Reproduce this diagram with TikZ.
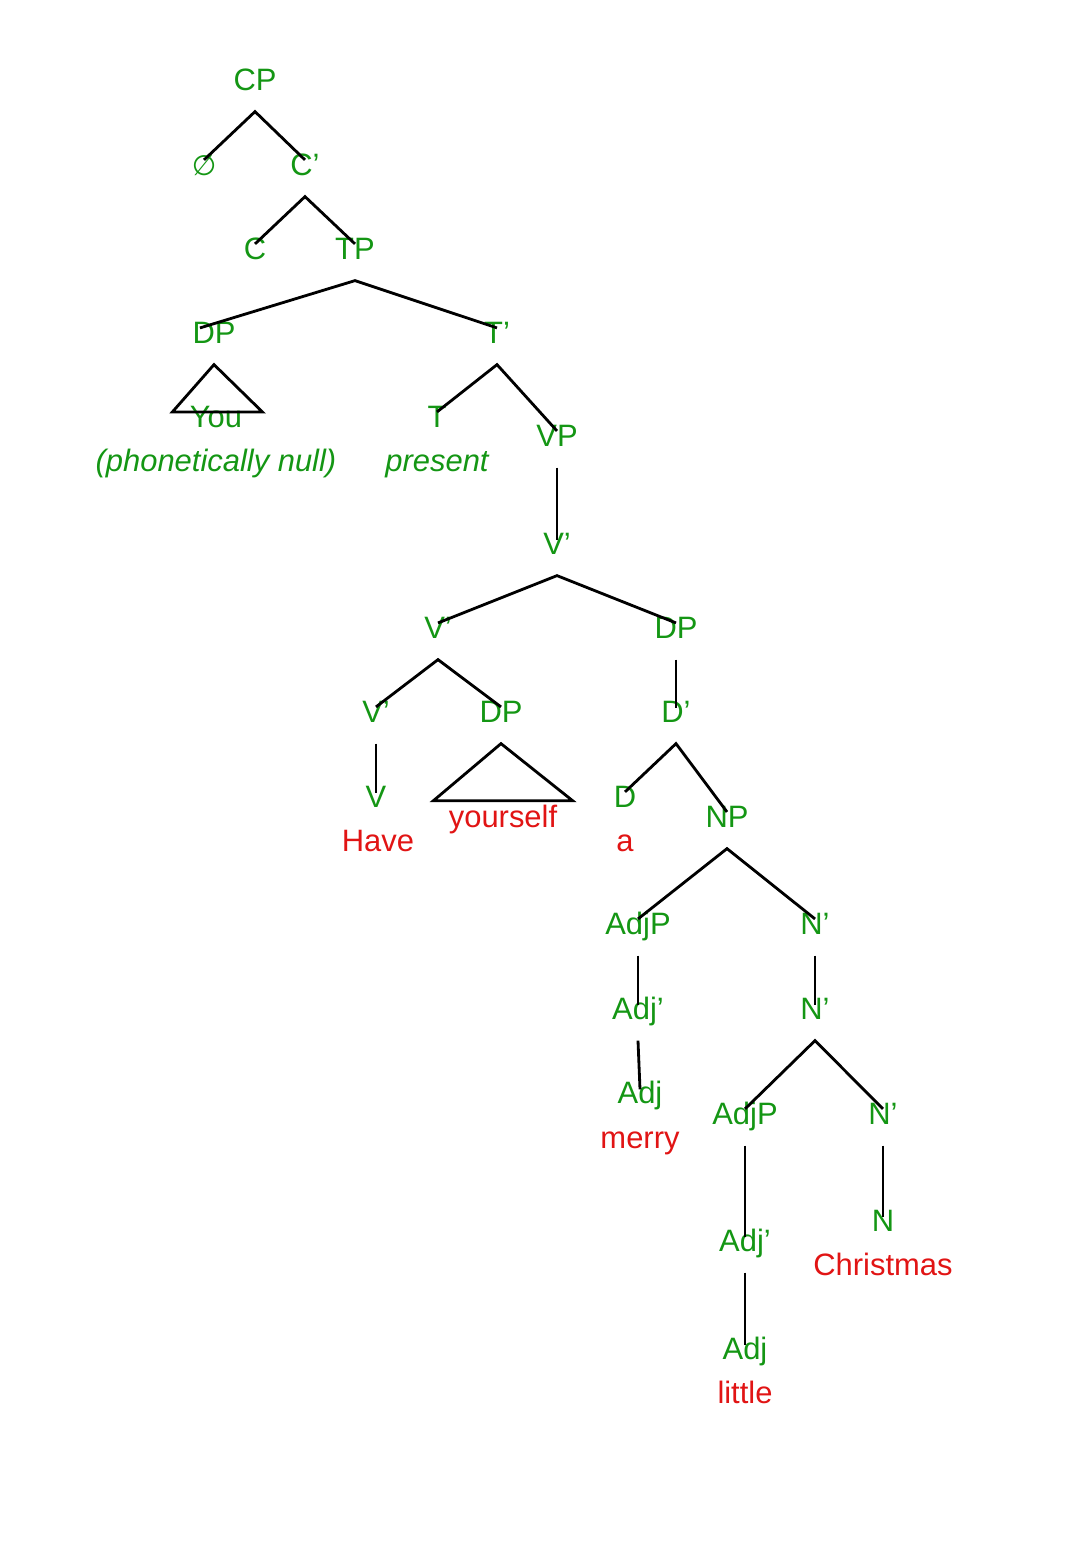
\documentclass[tikz,border=0pt]{standalone}
\usepackage{fontspec}
\setmainfont{Liberation Sans}
\newfontfamily\djv{DejaVu Sans}
\definecolor{tg}{RGB}{20,150,20}
\definecolor{tr}{RGB}{225,20,20}
\begin{document}
\begin{tikzpicture}[x=0.05cm,y=0.05cm,
  every node/.style={inner sep=0pt,outer sep=0pt,text height=0.72em,text depth=0pt,
    font=\fontsize{44}{52}\selectfont},
  lab/.style={text=tg},
  wd/.style={text=tr},
  it/.style={text=tg,font=\fontsize{44}{52}\selectfont\itshape},
  br/.style={line width=4pt,black}]
\useasboundingbox (0,0) rectangle (1080,-1557);
\node[lab] (CP) at (255,-88) {CP};
\node[lab] (Z) at (204,-173) {{\djv\fontsize{40}{48}\selectfont ∅}};
\node[lab] (Cb) at (305,-173) {C'};
\node[lab] (C) at (255,-257) {C};
\node[lab] (TP) at (355,-257) {TP};
\node[lab] (DP) at (214,-341) {DP};
\node[lab] (Tb) at (497,-341) {T'};
\node[lab] (You) at (216,-425) {You};
\node[it] (null) at (216,-469) {(phonetically null)};
\node[lab] (T) at (437,-425) {T};
\node[it] (pres) at (437,-469) {present};
\node[lab] (VP) at (557,-444) {VP};
\node[lab] (Vb) at (557,-552) {V'};
\node[lab] (Vb2) at (438,-636) {V'};
\node[lab] (DP2) at (676,-636) {DP};
\node[lab] (Vb3) at (376,-720) {V'};
\node[lab] (DP3) at (501,-720) {DP};
\node[lab] (V) at (376,-805) {V};
\node[wd] (have) at (378,-849) {Have};
\node[wd] (yours) at (503,-825) {yourself};
\node[lab] (Db) at (676,-720) {D'};
\node[lab] (D) at (625,-805) {D};
\node[wd] (a) at (625,-849) {a};
\node[lab] (NP) at (727,-825) {NP};
\node[lab] (AdjP) at (638,-932) {AdjP};
\node[lab] (Nb) at (815,-932) {N'};
\node[lab] (Adjb) at (638,-1017) {Adj'};
\node[lab] (Nb2) at (815,-1017) {N'};
\node[lab] (Adj) at (640,-1101) {Adj};
\node[wd] (merry) at (640,-1146) {merry};
\node[lab] (AdjP2) at (745,-1122) {AdjP};
\node[lab] (Nb3) at (883,-1122) {N'};
\node[lab] (Adjb2) at (745,-1249) {Adj'};
\node[lab] (N) at (883,-1229) {N};
\node[wd] (chr) at (883,-1273) {Christmas};
\node[lab] (Adj2) at (745,-1357) {Adj};
\node[wd] (little) at (745,-1401) {little};
\newcommand\bin[3]{\draw[br] ([yshift=15pt]#2.north) -- ([yshift=-30pt]#1.south) -- ([yshift=15pt]#3.north);}
\newcommand\un[2]{\draw[br] ([yshift=-30pt]#1.south) -- ([yshift=13pt]#2.north);}
\bin{CP}{Z}{Cb}
\bin{Cb}{C}{TP}
\draw[br] ([xshift=-20pt,yshift=15pt]DP.north) -- ([yshift=-30pt]TP.south) -- ([yshift=15pt]Tb.north);
\draw[br] ([yshift=15pt]T.north) -- ([yshift=-30pt]Tb.south) -- ([yshift=15pt]VP.north);
\un{VP}{Vb}
\bin{Vb}{Vb2}{DP2}
\bin{Vb2}{Vb3}{DP3}
\un{Vb3}{V}
\un{DP2}{Db}
\draw[br] ([yshift=15pt]D.north) -- ([yshift=-30pt]Db.south) -- ([yshift=15pt]NP.north);
\bin{NP}{AdjP}{Nb}
\un{AdjP}{Adjb}
\un{Adjb}{Adj}
\un{Nb}{Nb2}
\bin{Nb2}{AdjP2}{Nb3}
\un{AdjP2}{Adjb2}
\un{Adjb2}{Adj2}
\un{Nb3}{N}
\draw[br] ([yshift=-30pt]DP.south) -- ([xshift=-62pt,yshift=15pt]You.north) -- ([xshift=66pt,yshift=15pt]You.north) -- cycle;
\draw[br] ([yshift=-30pt]DP3.south) -- ([xshift=-99pt,yshift=31pt]yours.north) -- ([xshift=99pt,yshift=31pt]yours.north) -- cycle;
\end{tikzpicture}
\end{document}
